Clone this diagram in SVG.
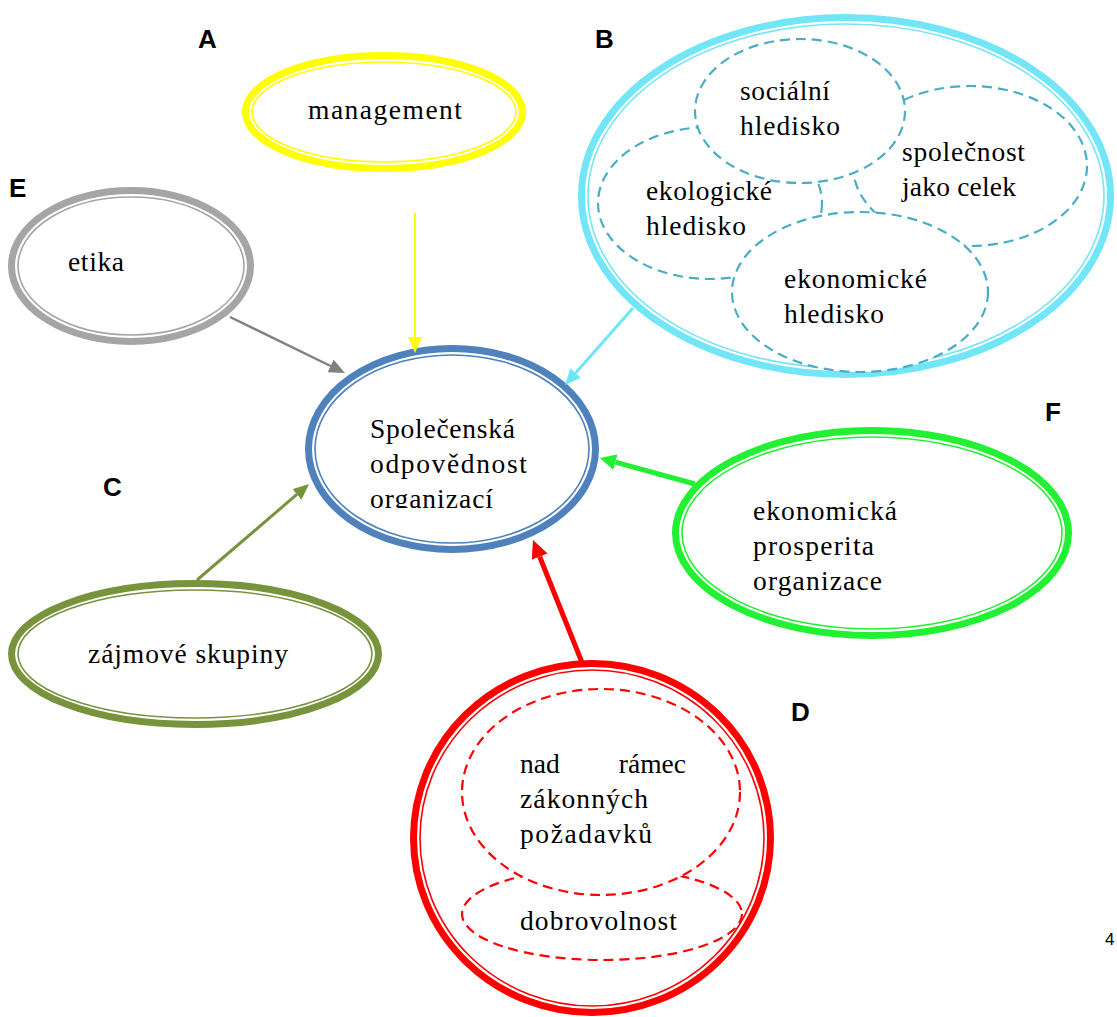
<svg xmlns="http://www.w3.org/2000/svg" width="1117" height="1017" viewBox="0 0 1117 1017">
<style>
.t{font-family:"Liberation Serif",serif;font-size:27.5px;fill:#000}
.lbl{font-family:"Liberation Sans",Arial,sans-serif;font-size:26px;font-weight:bold;fill:#000}
.o{fill:#fff;stroke-width:7}
.i{fill:none;stroke-width:1.6}
.d{stroke-width:2.2;stroke-dasharray:10 6}
.c{fill:none}
</style>
<defs>
<marker id="mY" markerUnits="userSpaceOnUse" markerWidth="16" markerHeight="14" refX="0" refY="7" orient="auto"><path d="M0,0 L16,7 L0,14 z" fill="#FFFF00"/></marker>
<marker id="mG" markerUnits="userSpaceOnUse" markerWidth="16" markerHeight="14" refX="0" refY="7" orient="auto"><path d="M0,0 L16,7 L0,14 z" fill="#808080"/></marker>
<marker id="mC" markerUnits="userSpaceOnUse" markerWidth="16" markerHeight="14" refX="0" refY="7" orient="auto"><path d="M0,0 L16,7 L0,14 z" fill="#6FE6F8"/></marker>
<marker id="mO" markerUnits="userSpaceOnUse" markerWidth="16" markerHeight="14" refX="0" refY="7" orient="auto"><path d="M0,0 L16,7 L0,14 z" fill="#77933C"/></marker>
<marker id="mGr" markerUnits="userSpaceOnUse" markerWidth="16" markerHeight="16" refX="0" refY="8" orient="auto"><path d="M0,0 L16,8 L0,16 z" fill="#22F033"/></marker>
<marker id="mR" markerUnits="userSpaceOnUse" markerWidth="18" markerHeight="17" refX="0" refY="8.5" orient="auto"><path d="M0,0 L18,8.5 L0,17 z" fill="#FF0000"/></marker>
<clipPath id="cc"><rect x="300" y="400" width="300" height="108"/></clipPath>
</defs>

<g id="labels">
<text class="lbl" x="198" y="48">A</text>
<text class="lbl" x="595" y="48">B</text>
<text class="lbl" x="9" y="197">E</text>
<text class="lbl" x="103" y="496">C</text>
<text class="lbl" x="1045" y="421">F</text>
<text class="lbl" x="791" y="721">D</text>
<text x="1105" y="945" style="font-family:'Liberation Sans',sans-serif;font-size:17px">4</text>
</g>

<g id="nodeA">
<ellipse class="o" cx="384" cy="112" rx="138.5" ry="56.5" stroke="#FFFF00"/>
<ellipse class="i" cx="384" cy="112" rx="132" ry="50" stroke="#FFFF00"/>
<text class="t" x="308" y="119" textLength="154" lengthAdjust="spacing">management</text>
</g>

<g id="nodeB">
<ellipse class="o" cx="846" cy="196" rx="264.5" ry="178.5" stroke="#72E6F7"/>
<ellipse class="i" cx="846" cy="196" rx="258" ry="172" stroke="#72E6F7"/>
<ellipse class="d" cx="710" cy="203" rx="112" ry="76" fill="#fff" stroke="#4BACC6"/>
<ellipse class="d" cx="970" cy="166" rx="117" ry="80" fill="#fff" stroke="#4BACC6"/>
<ellipse class="d" cx="800" cy="111" rx="105" ry="72" fill="#fff" stroke="#4BACC6"/>
<ellipse class="d" cx="860" cy="292" rx="128" ry="80" fill="#fff" stroke="#4BACC6"/>
<text class="t" x="740" y="100" textLength="90" lengthAdjust="spacing">sociální</text>
<text class="t" x="740" y="135" textLength="100" lengthAdjust="spacing">hledisko</text>
<text class="t" x="902" y="161" textLength="123" lengthAdjust="spacing">společnost</text>
<text class="t" x="902" y="196" textLength="114" lengthAdjust="spacing">jako celek</text>
<text class="t" x="646" y="200" textLength="126" lengthAdjust="spacing">ekologické</text>
<text class="t" x="646" y="235" textLength="100" lengthAdjust="spacing">hledisko</text>
<text class="t" x="784" y="288" textLength="143" lengthAdjust="spacing">ekonomické</text>
<text class="t" x="784" y="323" textLength="100" lengthAdjust="spacing">hledisko</text>
</g>

<g id="nodeE">
<ellipse class="o" cx="131" cy="266" rx="119.5" ry="75.5" stroke="#A5A5A5"/>
<ellipse class="i" cx="131" cy="266" rx="113" ry="69" stroke="#A5A5A5"/>
<text class="t" x="68" y="271" textLength="56" lengthAdjust="spacing">etika</text>
</g>

<g id="nodeC">
<ellipse class="o" cx="195" cy="654" rx="183.5" ry="70.5" stroke="#77933C"/>
<ellipse class="i" cx="195" cy="654" rx="177" ry="64" stroke="#77933C"/>
<text class="t" x="88" y="663" textLength="200" lengthAdjust="spacing">zájmové skupiny</text>
</g>

<g id="nodeF">
<ellipse class="o" cx="872" cy="533" rx="196.5" ry="102.5" stroke="#22F033"/>
<ellipse class="i" cx="872" cy="533" rx="190" ry="96" stroke="#22F033"/>
<text class="t" x="753" y="520" textLength="144" lengthAdjust="spacing">ekonomická</text>
<text class="t" x="753" y="555" textLength="121" lengthAdjust="spacing">prosperita</text>
<text class="t" x="753" y="590" textLength="129" lengthAdjust="spacing">organizace</text>
</g>

<g id="nodeD">
<ellipse class="o" cx="592" cy="838" rx="178.5" ry="174.5" stroke="#FF0000"/>
<ellipse class="i" cx="592" cy="838" rx="172" ry="168" stroke="#FF0000"/>
<ellipse class="d" cx="602" cy="914" rx="140" ry="46" fill="#fff" stroke="#FF0000"/>
<ellipse class="d" cx="601" cy="792" rx="139" ry="103" fill="#fff" stroke="#FF0000"/>
<text class="t" x="520" y="773">nad</text>
<text class="t" x="686" y="773" text-anchor="end">rámec</text>
<text class="t" x="520" y="808" textLength="128" lengthAdjust="spacing">zákonných</text>
<text class="t" x="520" y="843" textLength="132" lengthAdjust="spacing">požadavků</text>
<text class="t" x="520" y="930" textLength="157" lengthAdjust="spacing">dobrovolnost</text>
</g>

<g id="nodeCenter">
<ellipse class="o" cx="452" cy="449" rx="143.5" ry="100.5" stroke="#4F81BD"/>
<ellipse class="i" cx="452" cy="449" rx="137" ry="94" stroke="#4F81BD"/>
<g clip-path="url(#cc)">
<text class="t" x="370" y="438" textLength="145" lengthAdjust="spacing">Společenská</text>
<text class="t" x="370" y="473" textLength="157" lengthAdjust="spacing">odpovědnost</text>
<text class="t" x="370" y="508" textLength="123" lengthAdjust="spacing">organizací</text>
</g>
</g>

<g id="connectors" class="c">
<line x1="415" y1="213" x2="415" y2="337" stroke="#FFFF00" stroke-width="2" marker-end="url(#mY)"/>
<line x1="230" y1="317" x2="330.6" y2="366" stroke="#808080" stroke-width="2.5" marker-end="url(#mG)"/>
<line x1="633" y1="308" x2="575.6" y2="373" stroke="#6FE6F8" stroke-width="3" marker-end="url(#mC)"/>
<line x1="197" y1="580" x2="296.9" y2="494.4" stroke="#77933C" stroke-width="3" marker-end="url(#mO)"/>
<line x1="695" y1="484" x2="615.4" y2="462.2" stroke="#22F033" stroke-width="5" marker-end="url(#mGr)"/>
<line x1="583" y1="665" x2="539.7" y2="556.7" stroke="#FF0000" stroke-width="5" marker-end="url(#mR)"/>
</g>
</svg>
